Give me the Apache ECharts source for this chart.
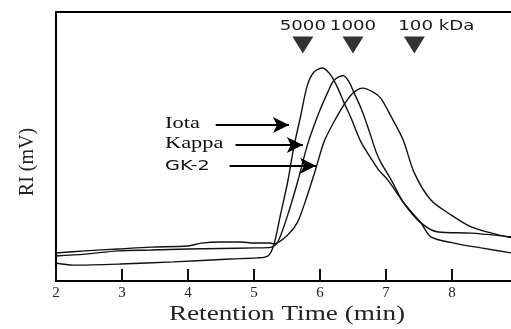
<!DOCTYPE html>
<html>
<head>
<meta charset="utf-8">
<script src="https://cdn.jsdelivr.net/npm/echarts@6/dist/echarts.min.js"></script>
<style>html,body{margin:0;padding:0;background:#fff}#c{width:511px;height:329px}</style>
</head>
<body>
<div id="c"></div>
<script>
// Retention time (min) and RI response (arbitrary 0-100 scale)
const iotaTime = [2.0, 2.26, 2.97, 3.78, 4.64, 5.05, 5.21, 5.30, 5.40, 5.51, 5.60, 5.71, 5.81, 5.91, 6.04, 6.16, 6.27, 6.36, 6.47, 6.62, 6.77, 6.89, 7.03, 7.27, 7.53, 7.68, 8.03, 8.44, 8.91, 9.0];
const iotaRI   = [6.7, 5.9, 6.3, 7.1, 8.2, 8.6, 9.3, 13.4, 24.5, 36.8, 49.4, 61.7, 72.9, 77.7, 79.2, 76.6, 71.7, 66.5, 60.6, 51.7, 45.7, 41.2, 37.5, 29.0, 21.6, 16.4, 14.1, 12.3, 10.4, 10.0];

const kappaTime = [2.0, 2.44, 2.94, 3.44, 4.0, 4.5, 5.0, 5.25, 5.36, 5.51, 5.66, 5.81, 5.97, 6.12, 6.21, 6.35, 6.44, 6.51, 6.62, 6.73, 6.85, 6.92, 7.08, 7.27, 7.53, 7.79, 8.29, 8.91, 9.0];
const kappaRI   = [9.3, 10.0, 11.2, 11.5, 11.9, 12.1, 12.3, 12.5, 14.5, 24.5, 36.8, 50.6, 61.7, 70.3, 74.5, 76.4, 74.0, 70.3, 64.3, 56.9, 48.0, 44.2, 37.5, 29.0, 21.6, 18.2, 17.8, 16.4, 16.2];

const gkTime = [2.0, 2.44, 2.94, 3.44, 4.0, 4.2, 4.5, 4.8, 5.0, 5.25, 5.3, 5.51, 5.66, 5.81, 5.94, 6.06, 6.21, 6.36, 6.50, 6.65, 6.80, 6.92, 7.08, 7.26, 7.43, 7.68, 7.99, 8.29, 8.60, 8.91, 9.0];
const gkRI   = [10.4, 11.2, 11.9, 12.6, 13.0, 14.1, 14.5, 14.5, 14.1, 14.1, 13.8, 17.1, 21.9, 32.0, 42.0, 51.7, 59.1, 65.4, 69.9, 71.7, 70.3, 68.0, 61.0, 52.4, 40.1, 30.1, 24.5, 20.1, 17.8, 16.0, 15.6];

// Molecular weight markers
const markerTime   = [5.74, 6.50, 7.43];
const markerLabels = ['5000', '1000', '100 kDa'];
const markerLevel  = 87.7;
const markerTextLevel = 94.8;

// Series labels and arrows (start time, end time, level)
const seriesNames = ['Iota', 'Kappa', 'GK-2'];
const arrowStart = [4.42, 4.72, 4.63];
const arrowEnd   = [5.53, 5.74, 5.94];
const arrowLevel = [58.0, 50.6, 42.8];

const xTicks = [2, 3, 4, 5, 6, 7, 8, 9];

function pairs(t, v) { return t.map((x, i) => [x, v[i]]); }

const chart = echarts.init(document.getElementById('c'), null, {renderer: 'canvas'});
const serif = '"Liberation Serif", "Times New Roman", serif';
const sans = '"DejaVu Sans", Verdana, sans-serif';

function curve(name, data, idx) {
  return {
    name: name, type: 'line', data: data, showSymbol: false, smooth: 0.3,
    lineStyle: {color: '#111', width: 1.4}, animation: false, z: 3,
    markLine: {
      silent: true, animation: false,
      symbol: ['none', 'arrow'], symbolSize: [12, 16],
      lineStyle: {color: '#000', width: 2, type: 'solid'},
      label: {show: false},
      data: [[{coord: [arrowStart[idx], arrowLevel[idx]]}, {coord: [arrowEnd[idx], arrowLevel[idx]]}]]
    }
  };
}

chart.setOption({
  animation: false,
  backgroundColor: '#fff',
  grid: {left: 56, top: 12, width: 462, bottom: 48, containLabel: false, outerBoundsMode: 'none',
    show: true, borderColor: '#000', borderWidth: 2, backgroundColor: 'transparent'},
  xAxis: {
    type: 'value', min: xTicks[0], max: xTicks[xTicks.length - 1], interval: 1,
    axisLine: {show: true, lineStyle: {color: '#000', width: 2}},
    axisTick: {show: true, inside: true, length: 12, lineStyle: {color: '#111', width: 2}},
    axisLabel: {color: '#222', fontFamily: serif, fontSize: 15, margin: 5, hideOverlap: false, showMaxLabel: true},
    splitLine: {show: false}
  },
  yAxis: {
    type: 'value', min: 0, max: 100,
    axisLine: {show: true, lineStyle: {color: '#000', width: 2}},
    axisTick: {show: false}, axisLabel: {show: false}, splitLine: {show: false}
  },
  series: [
    curve('Iota', pairs(iotaTime, iotaRI), 0),
    curve('Kappa', pairs(kappaTime, kappaRI), 1),
    curve('GK-2', pairs(gkTime, gkRI), 2),
    {
      type: 'scatter', animation: false, silent: true,
      symbol: 'path://M0,0 L20,0 L10,16 Z', symbolSize: [21, 17],
      itemStyle: {color: '#000'},
      data: markerTime.map(t => [t, markerLevel])
    }
  ]
});

const graphics = [];
markerTime.forEach((t, i) => {
  const p = chart.convertToPixel({gridIndex: 0}, [t, markerTextLevel]);
  const off = i === 2 ? 22 : 0;
  graphics.push({type: 'text', x: p[0] + off, y: p[1], scaleX: 1.3,
    style: {text: markerLabels[i], font: '14px ' + sans, fill: '#1a1a1a', textAlign: 'center', textVerticalAlign: 'middle'}});
});
const labelFonts = ['16px ' + serif, '16px ' + serif, '14px ' + sans];
const labelScale = [1.4, 1.4, 1.38];
const labelDy = [-1, -1, 0];
seriesNames.forEach((n, i) => {
  const p = chart.convertToPixel({gridIndex: 0}, [arrowStart[i], arrowLevel[i]]);
  graphics.push({type: 'text', x: 165, y: p[1] + labelDy[i], scaleX: labelScale[i],
    style: {text: n, font: labelFonts[i], fill: '#111', textAlign: 'left', textVerticalAlign: 'middle'}});
});
graphics.push({type: 'text', x: 287, y: 315, scaleX: 1.36,
  style: {text: 'Retention Time (min)', font: '20px ' + serif, fill: '#222', textAlign: 'center', textVerticalAlign: 'middle'}});
graphics.push({type: 'text', x: 28, y: 162, rotation: Math.PI / 2,
  style: {text: 'RI (mV)', font: '20px ' + serif, fill: '#222', textAlign: 'center', textVerticalAlign: 'middle'}});
chart.setOption({graphic: graphics});
</script>
</body>
</html>
